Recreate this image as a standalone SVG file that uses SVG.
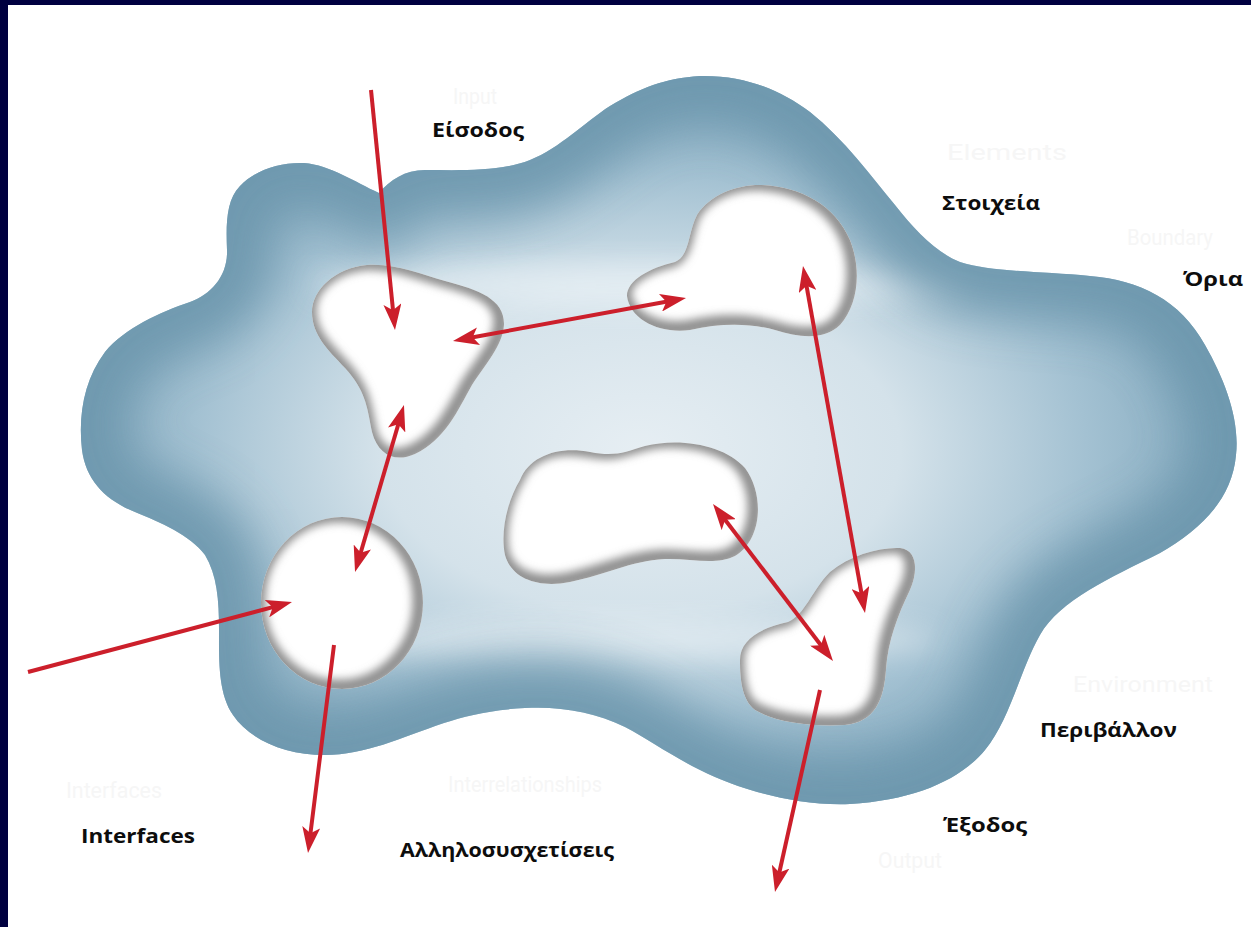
<svg xmlns="http://www.w3.org/2000/svg" xmlns:xlink="http://www.w3.org/1999/xlink" width="1251" height="927" viewBox="0 0 1251 927">
<style>
.lbl{font-family:"Open Sans","Noto Sans","DejaVu Sans",sans-serif;font-weight:700;font-size:20px;fill:#0d0d0d}
.ghost{font-family:Roboto,"Liberation Sans",sans-serif;font-size:22px;fill:#f6f6f6}
.arrow{stroke:#cc1f2b;stroke-width:4;fill:none}
.hole{fill:#fff}
.rim{fill:none;stroke:#8f8f8f;stroke-width:15;filter:url(#rimBlur)}
</style>
<defs>
<path id="sys" d="M 227,250 C 226,225 226,200 240,186 C 255,170 280,162 304,163 C 330,165 355,182 379,193 C 390,180 405,170 425,170 C 460,170 500,172 530,160 C 560,148 585,122 610,106 C 640,88 665,78 700,76 C 745,75 780,90 810,112 C 845,140 870,175 895,205 C 915,230 935,252 960,262 C 990,272 1040,271 1090,276 C 1140,280 1180,300 1205,345 C 1225,380 1240,420 1236,455 C 1232,500 1200,530 1160,553 C 1110,578 1060,600 1040,635 C 1020,670 1010,720 985,750 C 960,780 915,800 850,804 C 800,806 750,792 715,777 C 680,762 650,740 625,727 C 595,712 560,706 525,708 C 490,710 465,716 444,723 C 400,738 365,755 325,755 C 285,755 250,740 233,715 C 218,693 219,660 219,630 C 219,600 217,575 205,555 C 190,535 160,522 135,512 C 105,500 86,480 82,450 C 78,415 84,380 105,352 C 125,328 160,312 190,302 C 212,294 228,275 227,250 Z"/>
<path id="b1" d="M 312,312 C 312,290 335,268 367,265 C 395,263 420,274 445,281 C 480,290 505,300 504,325 C 503,345 485,365 472,385 C 458,410 445,440 415,454 C 395,463 378,455 372,432 C 367,405 365,390 345,368 C 328,350 312,335 312,312 Z"/>
<ellipse id="b2" cx="342" cy="603" rx="81" ry="86"/>
<path id="b3" d="M 627,296 C 627,280 650,268 675,262 C 690,256 688,232 697,215 C 710,195 735,185 760,185 C 800,186 835,205 850,240 C 862,270 858,305 840,325 C 825,340 800,338 775,330 C 750,323 720,323 690,330 C 660,334 630,320 627,296 Z"/>
<path id="b4" d="M 520,480 C 530,455 560,446 590,452 C 615,457 625,452 645,446 C 680,437 725,445 745,468 C 765,495 762,540 735,556 C 715,566 690,558 665,559 C 630,561 605,575 570,582 C 540,588 512,580 505,555 C 500,530 508,500 520,480 Z"/>
<path id="b5" d="M 740,660 C 740,640 760,628 788,622 C 805,615 812,590 830,572 C 850,555 880,547 900,548 C 918,550 918,572 910,590 C 898,615 888,640 886,670 C 884,700 875,722 845,725 C 810,727 775,722 755,710 C 742,700 740,680 740,660 Z"/>
<clipPath id="cSys"><use xlink:href="#sys"/></clipPath>
<clipPath id="c1"><use xlink:href="#b1"/></clipPath>
<clipPath id="c2"><use xlink:href="#b2"/></clipPath>
<clipPath id="c3"><use xlink:href="#b3"/></clipPath>
<clipPath id="c4"><use xlink:href="#b4"/></clipPath>
<clipPath id="c5"><use xlink:href="#b5"/></clipPath>
<radialGradient id="sysGrad" gradientUnits="userSpaceOnUse" cx="640" cy="450" r="620" gradientTransform="translate(640 450) scale(1 0.62) translate(-640 -450)">
<stop offset="0" stop-color="#e6eef3"/>
<stop offset="0.42" stop-color="#d4e2ea"/>
<stop offset="0.72" stop-color="#a3c1d2"/>
<stop offset="1" stop-color="#7ba3b9"/>
</radialGradient>
<filter id="edgeBlur" x="-20%" y="-20%" width="140%" height="140%"><feGaussianBlur stdDeviation="24"/></filter>
<filter id="softBlur" x="-50%" y="-50%" width="200%" height="200%"><feGaussianBlur stdDeviation="14"/></filter>
<filter id="rimBlur" x="-30%" y="-30%" width="160%" height="160%"><feGaussianBlur stdDeviation="4.5"/></filter>
<marker id="head" markerUnits="userSpaceOnUse" viewBox="0 0 26 18" markerWidth="26" markerHeight="18" refX="14" refY="9" orient="auto-start-reverse">
<path d="M0,0 L26,9 L0,18 L6,9 Z" fill="#cc1f2b"/>
</marker>
</defs>
<rect x="0" y="0" width="1251" height="927" fill="#fff"/>
<rect x="0" y="0" width="1251" height="5" fill="#000040"/>
<rect x="0" y="0" width="8" height="927" fill="#000040"/>

<g id="system">
<use xlink:href="#sys" fill="url(#sysGrad)"/>
<g clip-path="url(#cSys)">
<ellipse cx="640" cy="285" rx="330" ry="22" fill="#eef4f8" opacity="0.6" filter="url(#softBlur)"/>
<ellipse cx="620" cy="640" rx="320" ry="20" fill="#eef4f8" opacity="0.55" filter="url(#softBlur)"/>
<use xlink:href="#sys" fill="none" stroke="#6d97ad" stroke-width="95" filter="url(#edgeBlur)" opacity="0.9"/>
</g>
</g>

<g id="element-input">
<use xlink:href="#b1" class="hole"/>
<g clip-path="url(#c1)"><use xlink:href="#b1" class="rim" transform="translate(-3,-2)"/></g>
</g>
<g id="element-interface">
<use xlink:href="#b2" class="hole"/>
<g clip-path="url(#c2)"><use xlink:href="#b2" class="rim" transform="translate(-3,-2)"/></g>
</g>
<g id="element-top">
<use xlink:href="#b3" class="hole"/>
<g clip-path="url(#c3)"><use xlink:href="#b3" class="rim" transform="translate(-3,-2)"/></g>
</g>
<g id="element-middle">
<use xlink:href="#b4" class="hole"/>
<g clip-path="url(#c4)"><use xlink:href="#b4" class="rim" transform="translate(-3,-2)"/></g>
</g>
<g id="element-output">
<use xlink:href="#b5" class="hole"/>
<g clip-path="url(#c5)"><use xlink:href="#b5" class="rim" transform="translate(-3,-2)"/></g>
</g>

<g id="connectors">
<line class="arrow" x1="371" y1="90" x2="393.8" y2="318.1" marker-end="url(#head)"/>
<line class="arrow" x1="464.8" y1="338.8" x2="674.2" y2="300.2" marker-start="url(#head)" marker-end="url(#head)"/>
<line class="arrow" x1="400.6" y1="416.5" x2="358.4" y2="560.5" marker-start="url(#head)" marker-end="url(#head)"/>
<line class="arrow" x1="28" y1="672" x2="280.4" y2="605.1" marker-end="url(#head)"/>
<line class="arrow" x1="334" y1="645" x2="309.5" y2="841.1" marker-end="url(#head)"/>
<line class="arrow" x1="805.1" y1="277.8" x2="862.9" y2="601.2" marker-start="url(#head)" marker-end="url(#head)"/>
<line class="arrow" x1="720.3" y1="513.5" x2="825.7" y2="651.5" marker-start="url(#head)" marker-end="url(#head)"/>
<line class="arrow" x1="820" y1="690" x2="777.6" y2="880.3" marker-end="url(#head)"/>
</g>

<g id="ghost-labels">
<text class="ghost" x="453" y="104" font-size="14" textLength="44" lengthAdjust="spacingAndGlyphs">Input</text>
<text class="ghost" x="947" y="160" textLength="120" lengthAdjust="spacingAndGlyphs">Elements</text>
<text class="ghost" x="1127" y="245" textLength="86" lengthAdjust="spacingAndGlyphs">Boundary</text>
<text class="ghost" x="1073" y="692" textLength="140" lengthAdjust="spacingAndGlyphs">Environment</text>
<text class="ghost" x="66" y="798" textLength="96" lengthAdjust="spacingAndGlyphs">Interfaces</text>
<text class="ghost" x="448" y="792" font-size="20" textLength="154" lengthAdjust="spacingAndGlyphs">Interrelationships</text>
<text class="ghost" x="878" y="868" textLength="64" lengthAdjust="spacingAndGlyphs">Output</text>
</g>

<g id="labels">
<text class="lbl" x="432" y="137" textLength="92" lengthAdjust="spacingAndGlyphs">Είσοδος</text>
<text class="lbl" x="942" y="210" textLength="98" lengthAdjust="spacingAndGlyphs">Στοιχεία</text>
<text class="lbl" x="1183" y="286" textLength="60" lengthAdjust="spacingAndGlyphs">Όρια</text>
<text class="lbl" x="1040" y="737" textLength="137" lengthAdjust="spacingAndGlyphs">Περιβάλλον</text>
<text class="lbl" x="943" y="832" textLength="84" lengthAdjust="spacingAndGlyphs">Έξοδος</text>
<text class="lbl" x="81" y="843" textLength="114" lengthAdjust="spacingAndGlyphs">Interfaces</text>
<text class="lbl" x="400" y="857" textLength="214" lengthAdjust="spacingAndGlyphs">Αλληλοσυσχετίσεις</text>
</g>
</svg>
